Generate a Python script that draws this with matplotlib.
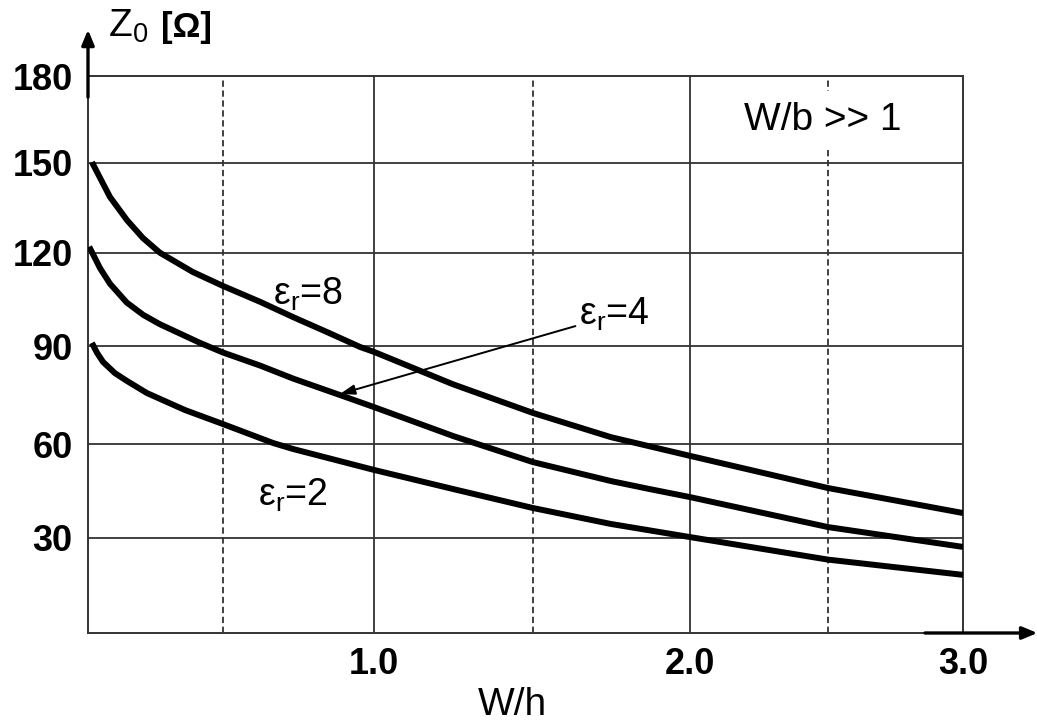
import numpy as np
import matplotlib.pyplot as plt

plt.rcParams['font.family'] = ['Liberation Sans', 'DejaVu Sans']
plt.rcParams['mathtext.fontset'] = 'custom'
plt.rcParams['mathtext.rm'] = 'Liberation Sans'
plt.rcParams['mathtext.it'] = 'Liberation Sans:italic'
plt.rcParams['mathtext.bf'] = 'Liberation Sans:bold'

# values (W/h, Z0 in ohm)
wh_8 = [0.066, 0.093, 0.126, 0.182, 0.235, 0.291, 0.40, 0.5, 0.623, 0.732, 0.844,
        0.954, 1.0, 1.248, 1.5, 1.748, 2.0, 2.5, 3.0]
z0_8 = [150.3, 145, 138.6, 130.9, 124.9, 120, 113.8, 109.3, 104.2, 99.3, 94.5,
        89.7, 88.2, 78.3, 69.5, 62.1, 56.2, 45.9, 37.9]

wh_4 = [0.057, 0.093, 0.126, 0.181, 0.236, 0.291, 0.424, 0.5, 0.623, 0.733, 0.887,
        1.0, 1.25, 1.5, 1.75, 1.87, 2.0, 2.5, 3.0]
z0_4 = [122, 115, 110, 104, 100, 97, 91, 88, 84, 80, 75,
        71.3, 62.4, 54.2, 48.1, 45.6, 43, 33.4, 27.1]

wh_2 = [0.066, 0.083, 0.103, 0.142, 0.182, 0.248, 0.374, 0.5, 0.666, 0.732,
        1.0, 1.248, 1.5, 1.748, 2.0, 2.5, 3.0]
z0_2 = [91, 87.9, 85.1, 81.7, 79.3, 75.6, 70.4, 66.1, 60.3, 58.4,
        51.7, 45.6, 39.5, 34.4, 30.2, 23.1, 18.3]

x_ticks = [1.0, 2.0, 3.0]
x_ticklabels = ['1.0', '2.0', '3.0']
y_ticks = [30, 60, 90, 120, 150, 180]
x_solid = [1.0, 2.0]
x_dashed = [0.5, 1.5, 2.5]

# the original grid is hand drawn and not evenly spaced -> piecewise scales
gx = [-2.0, 0.5, 1.0, 1.5, 2.0, 2.5, 3.0, 6.0]
gx_px = [223 - 2.5 * 302, 223, 374, 533, 690, 828, 963, 963 + 3 * 270]
gy = [-100, 0, 30, 60, 90, 120, 150, 180, 500]
gy_px = [-318, 0, 95.3, 189, 287, 380.3, 470, 557, 557 + 320 * 2.9]


def fx(v):
    return np.interp(v, gx, gx_px)


def ifx(p):
    return np.interp(p, gx_px, gx)


def fy(v):
    return np.interp(v, gy, gy_px)


def ify(p):
    return np.interp(p, gy_px, gy)


W, H = 1037, 723
fig = plt.figure(figsize=(W / 100, H / 100), dpi=100)
ax = fig.add_axes([88 / W, 90 / H, 875 / W, 557 / H])
ax.set_xscale('function', functions=(fx, ifx))
ax.set_yscale('function', functions=(fy, ify))
ax.set_xlim(0.053, 3.0)
ax.set_ylim(0, 180)

grid_c = '#333333'
for s in ax.spines.values():
    s.set_color(grid_c)
    s.set_linewidth(1.4)

for v in y_ticks[:-1]:
    ax.axhline(v, color=grid_c, lw=1.3, zorder=1)
for v in x_solid:
    ax.axvline(v, color=grid_c, lw=1.3, zorder=1)
for v in x_dashed:
    ax.axvline(v, color=grid_c, lw=1.3, ls=(0, (3.5, 2)), zorder=1)

for wh, z0 in [(wh_8, z0_8), (wh_4, z0_4), (wh_2, z0_2)]:
    ax.plot(wh, z0, color='black', lw=4.3, solid_capstyle='butt',
            solid_joinstyle='round', zorder=4)

ax.set_xticks(x_ticks)
ax.set_xticklabels(x_ticklabels, fontsize=26, fontweight='bold')
ax.set_yticks(y_ticks)
ax.set_yticklabels([str(v) for v in y_ticks], fontsize=26, fontweight='bold')
ax.minorticks_off()
ax.tick_params(axis='x', length=0, pad=10)
ax.tick_params(axis='y', length=0, pad=11)

ax.text(0.666, 103.2, r'$\mathrm{ε_r}$=8', fontsize=27, ha='left', va='baseline', zorder=5)
ax.text(1.645, 97.0, r'$\mathrm{ε_r}$=4', fontsize=27, ha='left', va='baseline', zorder=5)
ax.text(0.616, 40.2, r'$\mathrm{ε_r}$=2', fontsize=27, ha='left', va='baseline', zorder=5)
ax.annotate('', xy=(0.887, 75.3), xytext=(1.635, 96.4),
            arrowprops=dict(arrowstyle='-|>,head_length=0.6,head_width=0.2',
                            color='black', lw=1.4, mutation_scale=15,
                            shrinkA=0, shrinkB=0), zorder=5)

ax.text(2.482, 161.4, 'W/b >> 1', fontsize=28, ha='center', va='baseline',
        bbox=dict(facecolor='white', edgecolor='none', pad=8), zorder=3)

# axis arrows
ax.annotate('', xy=(0, 1.083), xytext=(0, 0.962), xycoords='axes fraction',
            arrowprops=dict(arrowstyle='-|>,head_length=0.6,head_width=0.25',
                            color='black', lw=2.4, mutation_scale=15,
                            shrinkA=0, shrinkB=0), annotation_clip=False)
ax.annotate('', xy=(1.085, 0), xytext=(0.9566, 0), xycoords='axes fraction',
            arrowprops=dict(arrowstyle='-|>,head_length=0.6,head_width=0.25',
                            color='black', lw=2.4, mutation_scale=15,
                            shrinkA=0, shrinkB=0), annotation_clip=False)

fig.text(108 / W, 1 - 37 / H, r'Z$_0$', fontsize=28, va='baseline')
fig.text(161 / W, 1 - 37 / H, '[Ω]', fontsize=25, fontweight='bold', va='baseline')
fig.text(512 / W, 1 - 715 / H, 'W/h', fontsize=28, ha='center', va='baseline')

fig.savefig('out.png', dpi=100)
